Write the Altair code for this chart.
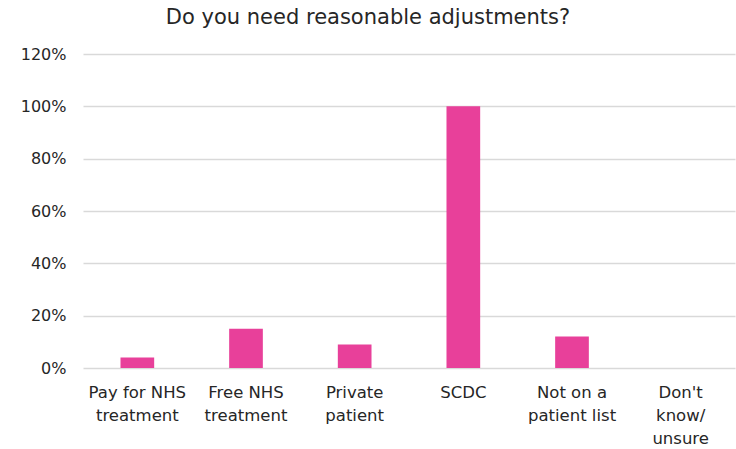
import altair as alt
import pandas as pd

categories = ["Pay for NHS\ntreatment", "Free NHS\ntreatment", "Private\npatient", "SCDC",
              "Not on a\npatient list", "Don't\nknow/\nunsure"]
values = [0.04, 0.15, 0.09, 1.00, 0.12, 0.0]
y_ticks = [0, 0.2, 0.4, 0.6, 0.8, 1.0, 1.2]

df = pd.DataFrame({"category": categories, "value": values})

FONT = "DejaVu Sans"

chart = alt.Chart(df).mark_bar(color="#E8409A").encode(
    x=alt.X("category:N", sort=categories,
            scale=alt.Scale(paddingInner=0.69, paddingOuter=0.345),
            axis=alt.Axis(title=None, labelAngle=0, domain=False, ticks=False,
                          labelExpr="split(datum.label, '\\n')",
                          labelFont=FONT, labelFontSize=16.5, labelColor="#262626",
                          labelLineHeight=23, labelPadding=16, labelBaseline="top")),
    y=alt.Y("value:Q", scale=alt.Scale(domain=[0, 1.2], nice=False),
            axis=alt.Axis(title=None, values=y_ticks, format=".0%", domain=False, ticks=False,
                          labelFont=FONT, labelFontSize=16, labelColor="#262626",
                          labelPadding=17, gridColor="#d9d9d9", gridWidth=1.5)),
).properties(
    width=652, height=314,
    title=alt.TitleParams("Do you need reasonable adjustments?", font=FONT, fontSize=21,
                          fontWeight="normal", color="#262626", anchor="middle",
                          dx=-41, offset=18),
    autosize=alt.AutoSizeParams(type="none"),
    padding={"left": 83, "top": 54, "right": 1, "bottom": 81},
).configure_view(stroke=None)

chart.save("out.html", embed_options={"renderer": "svg", "actions": False})
